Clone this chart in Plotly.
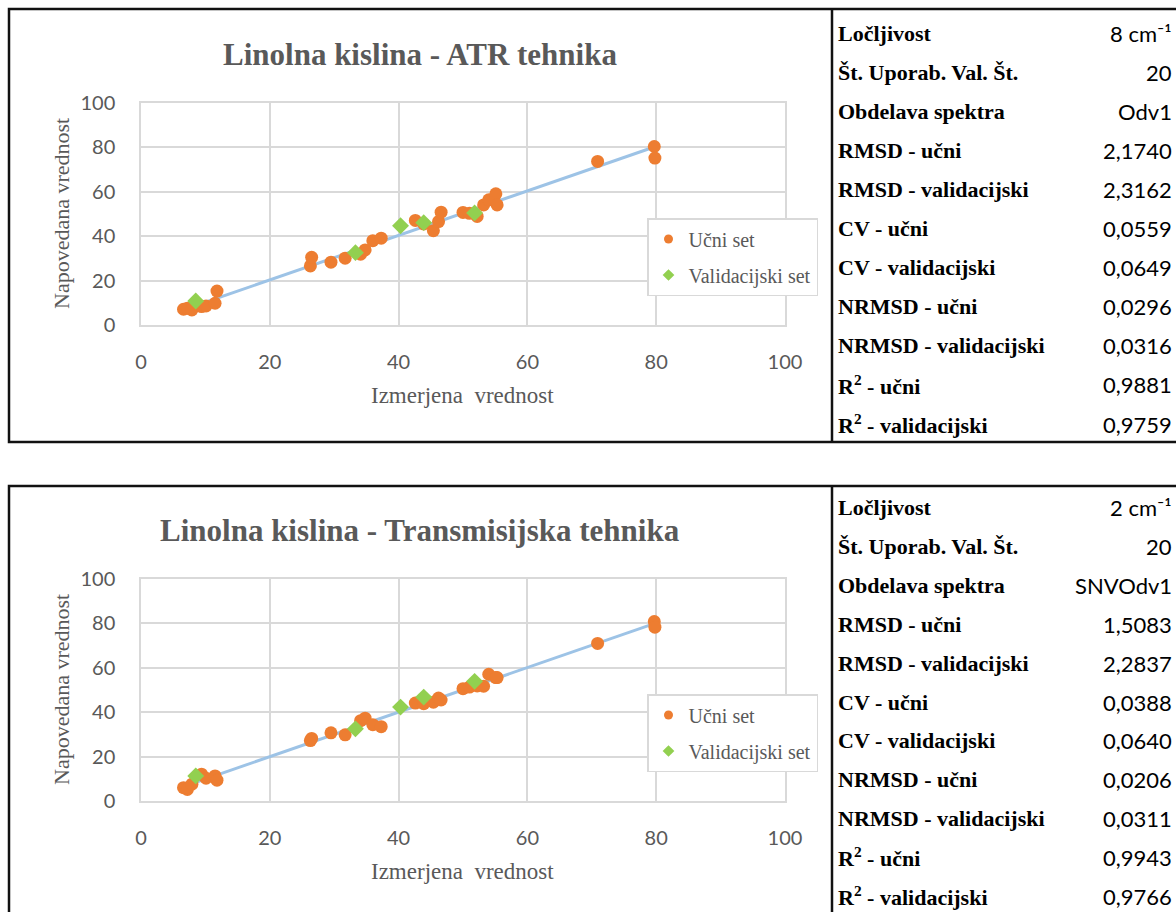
import numpy as np
import plotly.graph_objects as go

W, H = 1176, 912

# ---- data -------------------------------------------------------------
# measured values (shared by both techniques)
x_train = [6.6, 7.2, 7.9, 9.4, 10.1, 11.5, 11.8, 26.3, 26.5, 29.5, 31.7, 34.1, 34.8,
           36.0, 37.3, 42.6, 43.9, 45.4, 46.2, 46.6, 50.0, 51.0, 52.2, 53.2, 54.0,
           55.1, 55.3, 70.9, 79.7, 79.8]
x_valid = [8.5, 33.3, 40.3, 43.9, 51.8]

# predicted values - ATR technique
atr_train = [7.1, 7.5, 6.8, 8.3, 8.6, 9.8, 15.3, 26.6, 30.5, 28.3, 30.1, 31.9, 33.8,
             38.0, 39.1, 47.1, 45.5, 42.5, 46.6, 50.8, 50.7, 50.3, 48.9, 54.1, 56.4,
             59.1, 54.1, 73.7, 80.4, 75.2]
atr_valid = [10.8, 32.6, 44.7, 46.1, 50.5]

# predicted values - transmission technique
tr_train = [6.0, 5.2, 7.6, 12.1, 10.3, 11.3, 9.4, 27.2, 28.2, 30.7, 29.8, 36.2, 37.3,
            34.4, 33.5, 44.1, 43.8, 44.5, 46.4, 45.5, 50.6, 51.3, 51.8, 51.7, 57.1,
            55.6, 55.6, 71.0, 80.8, 78.3]
tr_valid = [11.3, 32.5, 42.3, 46.8, 53.9]

titles = ["Linolna kislina - ATR tehnika", "Linolna kislina - Transmisijska tehnika"]

x_title = "Izmerjena  vrednost"
y_title = "Napovedana vrednost"
legend_names = ["Učni set", "Validacijski set"]
tick_vals = [0, 20, 40, 60, 80, 100]

table_labels = ["Ločljivost", "Št. Uporab. Val. Št.", "Obdelava spektra",
                "RMSD - učni", "RMSD - validacijski", "CV - učni", "CV - validacijski",
                "NRMSD - učni", "NRMSD - validacijski",
                "R<sup>2</sup> - učni", "R<sup>2</sup> - validacijski"]
atr_table = ["8 cm⁻¹", "20", "Odv1", "2,1740", "2,3162", "0,0559", "0,0649",
             "0,0296", "0,0316", "0,9881", "0,9759"]
tr_table = ["2 cm⁻¹", "20", "SNVOdv1", "1,5083", "2,2837", "0,0388", "0,0640",
            "0,0206", "0,0311", "0,9943", "0,9766"]

# ---- styling ----------------------------------------------------------
ORANGE = "#ED7D31"
GREEN = "#92D050"
TREND = "#9DC3E6"
GRID = "#D9D9D9"
TXT = "#595959"
SERIF = "Liberation Serif"
SANS = "Lato"


def px(x):
    return x / W


def py(y):
    return 1 - y / H


panels = [
    dict(top=0, xs=x_train, ys=atr_train, xv=x_valid, yv=atr_valid, tbl=atr_table,
         title=titles[0], row0=33, step=39.1),
    dict(top=476, xs=x_train, ys=tr_train, xv=x_valid, yv=tr_valid, tbl=tr_table,
         title=titles[1], row0=508, step=38.8),
]

fig = go.Figure()
annotations = []
shapes = []

for i, p in enumerate(panels):
    k = "" if i == 0 else str(i + 1)
    off = p["top"]
    xa, ya = "x" + k, "y" + k
    leg = "legend" + k

    # least-squares trend line of the training set
    a, b = np.polyfit(p["xs"], p["ys"], 1)
    xl = np.array([min(p["xs"]), max(p["xs"])])
    fig.add_trace(go.Scatter(x=xl, y=a * xl + b, mode="lines",
                             line=dict(color=TREND, width=3),
                             xaxis=xa, yaxis=ya, showlegend=False, hoverinfo="skip"))

    fig.add_trace(go.Scatter(x=p["xs"], y=p["ys"], mode="markers",
                             marker=dict(color=ORANGE, size=13, symbol="circle"),
                             xaxis=xa, yaxis=ya, showlegend=False))
    fig.add_trace(go.Scatter(x=p["xv"], y=p["yv"], mode="markers",
                             marker=dict(color=GREEN, size=13, symbol="diamond"),
                             xaxis=xa, yaxis=ya, showlegend=False))

    # legend entries with small symbols
    fig.add_trace(go.Scatter(x=[None], y=[None], mode="markers", name=legend_names[0],
                             marker=dict(color=ORANGE, size=9, symbol="circle"),
                             xaxis=xa, yaxis=ya, legend=leg, legendgroup="u" + k))
    fig.add_trace(go.Scatter(x=[None], y=[None], mode="markers", name=legend_names[1],
                             marker=dict(color=GREEN, size=9, symbol="diamond"),
                             xaxis=xa, yaxis=ya, legend=leg, legendgroup="v" + k))

    axis_common = dict(range=[0, 100], tickvals=tick_vals, showgrid=True,
                       gridcolor=GRID, gridwidth=1.5, showline=True, linecolor=GRID,
                       linewidth=1.5, mirror=True, zeroline=False, ticks="",
                       automargin=False,
                       tickfont=dict(family=SANS, size=20, color=TXT), fixedrange=True)
    fig.update_layout({
        "xaxis" + k: dict(axis_common, domain=[px(141), px(785)], anchor=ya,
                          ticklabelstandoff=18),
        "yaxis" + k: dict(axis_common, domain=[py(off + 325), py(off + 103)], anchor=xa,
                          ticklabelstandoff=20),
        leg: dict(x=px(647), y=py(off + 218), xanchor="left", yanchor="top",
                  bordercolor=GRID, borderwidth=1.5, bgcolor="white",
                  font=dict(family=SERIF, size=20, color=TXT),
                  tracegroupgap=7, itemsizing="trace", traceorder="grouped",
                  itemwidth=30, entrywidth=134),
    })

    # chart and axis titles
    annotations.append(dict(text="<b>" + p["title"] + "</b>", x=px(420),
                            y=py(off + 54), xref="paper", yref="paper",
                            showarrow=False, xanchor="center", yanchor="middle",
                            font=dict(family=SERIF, size=31, color=TXT)))
    annotations.append(dict(text=x_title, x=px(462), y=py(off + 395), xref="paper",
                            yref="paper", showarrow=False, xanchor="center",
                            yanchor="middle",
                            font=dict(family=SERIF, size=23, color=TXT)))
    annotations.append(dict(text=y_title, x=px(61), y=py(off + 214), xref="paper",
                            yref="paper", showarrow=False, textangle=-90,
                            xanchor="center", yanchor="middle",
                            font=dict(family=SERIF, size=22, color=TXT)))

    # parameter table
    for r, (lab, val) in enumerate(zip(table_labels, p["tbl"])):
        yy = py(p["row0"] + p["step"] * r)
        annotations.append(dict(text="<b>" + lab + "</b>", x=px(836), y=yy,
                                xref="paper", yref="paper", showarrow=False,
                                xanchor="left", yanchor="middle",
                                font=dict(family=SERIF, size=22, color="black")))
        annotations.append(dict(text=val, x=px(1174), y=yy, xref="paper",
                                yref="paper", showarrow=False, xanchor="right",
                                yanchor="middle",
                                font=dict(family=SANS, size=22, color="black")))

    # panel frame and divider
    y_lo = 442 if i == 0 else 930
    y_hi = 9 if i == 0 else 486
    shapes.append(dict(type="rect", xref="paper", yref="paper", x0=px(9), x1=px(1190),
                       y0=py(y_lo), y1=py(y_hi),
                       line=dict(color="#111111", width=2.5)))
    shapes.append(dict(type="line", xref="paper", yref="paper", x0=px(832), x1=px(832),
                       y0=py(y_lo), y1=py(y_hi), line=dict(color="#111111", width=2.5)))

fig.update_layout(width=W, height=H, margin=dict(l=0, r=0, t=0, b=0, autoexpand=False),
                  paper_bgcolor="white", plot_bgcolor="white",
                  annotations=annotations, shapes=shapes, hovermode=False)

fig.write_html("out.html")
